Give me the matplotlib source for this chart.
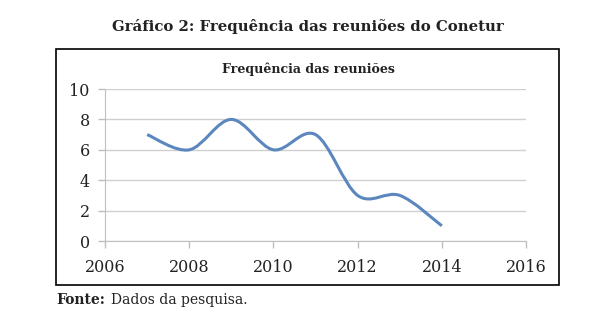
import numpy as np
import matplotlib.pyplot as plt
from matplotlib.path import Path
from matplotlib.patches import PathPatch, Rectangle

# data
anos = [2007, 2008, 2009, 2010, 2011, 2012, 2013, 2014]
reunioes = [7, 6, 8, 6, 7, 3, 3, 1]
x_ticks = [2006, 2008, 2010, 2012, 2014, 2016]
y_ticks = [0, 2, 4, 6, 8, 10]

plt.rcParams['font.family'] = 'DejaVu Serif'

fig = plt.figure(figsize=(6.16, 3.21), dpi=100)
ax = fig.add_axes([0.1705, 0.2492, 0.6834, 0.4735])

# smoothed line (bezier like Excel's "smoothed line")
pts = np.column_stack([anos, reunioes]).astype(float)
verts = [tuple(pts[0])]
codes = [Path.MOVETO]
n = len(pts)
for i in range(n - 1):
    p0 = pts[max(i - 1, 0)]
    p1 = pts[i]
    p2 = pts[i + 1]
    p3 = pts[min(i + 2, n - 1)]
    c1 = p1 + (p2 - p0) / 6.0
    c2 = p2 - (p3 - p1) / 6.0
    verts += [tuple(c1), tuple(c2), tuple(p2)]
    codes += [Path.CURVE4] * 3
ax.add_patch(PathPatch(Path(verts, codes), fill=False, edgecolor='#5B87BE',
                       linewidth=2.2, capstyle='butt', zorder=3))

ax.set_xlim(2006, 2016)
ax.set_ylim(0, 10)
ax.set_xticks(x_ticks)
ax.set_yticks(y_ticks)
ax.tick_params(labelsize=11.5, colors='#bfbfbf', labelcolor='#222222',
               length=5, width=1)
ax.tick_params(axis='x', pad=8)
ax.tick_params(axis='y', pad=6)
ax.grid(axis='y', color='#d0d0d0', linewidth=1)
ax.set_axisbelow(True)
for s in ['top', 'right']:
    ax.spines[s].set_visible(False)
for s in ['left', 'bottom']:
    ax.spines[s].set_color('#bfbfbf')

# outer box
fig.patches.append(Rectangle((0.0909, 0.1121), 0.8166, 0.735, transform=fig.transFigure,
                             fill=False, edgecolor='black', linewidth=1.2))

fig.text(0.5, 0.919, 'Gráfico 2: Frequência das reuniões do Conetur', ha='center', va='center',
         fontsize=10.7, fontweight='bold', color='#222222')
fig.text(0.5, 0.785, 'Frequência das reuniões', ha='center', va='center',
         fontsize=9.1, fontweight='bold', color='#222222')
fig.text(0.0909, 0.065, 'Fonte:', ha='left', va='center',
         fontsize=10, fontweight='bold', color='#222222')
fig.text(0.180, 0.065, 'Dados da pesquisa.', ha='left', va='center',
         fontsize=10, color='#222222')

fig.savefig('out.png', dpi=100)
